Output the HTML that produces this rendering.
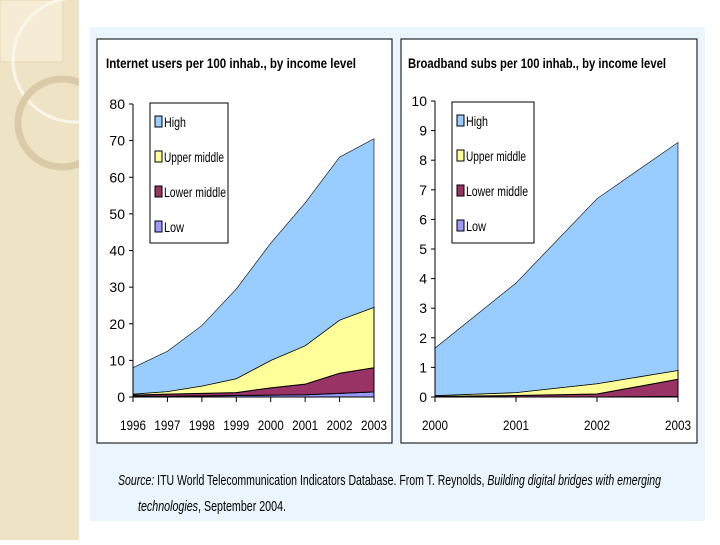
<!DOCTYPE html>
<html><head><meta charset="utf-8"><style>
body{margin:0;width:720px;height:540px;overflow:hidden;background:#fff;font-family:"Liberation Sans",sans-serif}
svg text{font-family:"Liberation Sans",sans-serif}
</style></head><body>
<svg id="s" width="720" height="540" xmlns="http://www.w3.org/2000/svg">
<defs><clipPath id="cp"><rect x="0" y="0" width="79" height="540"/></clipPath></defs>
<rect x="0" y="0" width="79" height="540" fill="#efe3c6"/>
<g clip-path="url(#cp)">
<rect x="0" y="0" width="63" height="62" fill="#f6ecd6" stroke="#e6d6b0"/>
<circle cx="75" cy="60" r="62" fill="none" stroke="#fbf6ea" stroke-width="3"/>
<circle cx="62" cy="123" r="44" fill="none" stroke="#d9cba8" stroke-width="7"/>
</g>
<rect x="90" y="27" width="615" height="494" fill="#eaf5fd"/>
<rect x="97" y="39" width="295" height="404" fill="#fff" stroke="#000" stroke-width="1"/>
<rect x="401" y="39" width="296" height="404" fill="#fff" stroke="#000" stroke-width="1"/>
<text x="106" y="68" font-size="14" font-weight="bold" textLength="250" lengthAdjust="spacingAndGlyphs">Internet users per 100 inhab., by income level</text>
<text x="408" y="68" font-size="14" font-weight="bold" textLength="258" lengthAdjust="spacingAndGlyphs">Broadband subs per 100 inhab., by income level</text>
<g id="L"></g><g id="R"></g>
<text x="118" y="485" font-family="Liberation Serif" font-size="15" textLength="543" lengthAdjust="spacingAndGlyphs"><tspan font-style="italic">Source:</tspan> ITU World Telecommunication Indicators Database. From T. Reynolds, <tspan font-style="italic">Building digital bridges with emerging</tspan></text>
<text x="138" y="511" font-family="Liberation Serif" font-size="15" textLength="148" lengthAdjust="spacingAndGlyphs"><tspan font-style="italic">technologies</tspan>, September 2004.</text>
</svg>
<script>
const leftYears=["1996","1997","1998","1999","2000","2001","2002","2003"];
const leftLow=[0.2,0.2,0.3,0.4,0.5,0.6,1.0,1.4];
const leftLowerMid=[0.3,0.6,0.7,0.8,2.0,2.9,5.5,6.6];
const leftUpperMid=[0.3,0.7,2.0,3.8,7.5,10.5,14.5,16.5];
const leftHigh=[7.2,11.0,16.5,24.5,32.0,39.0,44.5,46.0];
const leftTicks=[0,10,20,30,40,50,60,70,80];
const rightYears=["2000","2001","2002","2003"];
const rightLow=[0,0,0,0.02];
const rightLowerMid=[0.02,0.05,0.1,0.58];
const rightUpperMid=[0.03,0.1,0.35,0.3];
const rightHigh=[1.6,3.7,6.25,7.7];
const rightTicks=[0,1,2,3,4,5,6,7,8,9,10];
const names=["Low","Lower middle","Upper middle","High"];
const colors=["#9999ff","#993366","#ffff99","#99ccff"];
const legW={"Low":20,"Lower middle":62,"Upper middle":60,"High":22};
const NS="http://www.w3.org/2000/svg";
function mk(g,tag,a){const e=document.createElementNS(NS,tag);for(const k in a)e.setAttribute(k,a[k]);g.appendChild(e);return e;}
function chart(gid,pre,years,series,ticks,ymax,x0,x1,y0,y1,lg){
  const g=document.getElementById(gid);
  const xs=i=>x0+(x1-x0)*i/(years.length-1);
  const ys=v=>y0-(y0-y1)*v/ymax;
  let cum=years.map(()=>0);
  series.forEach((s,si)=>{
    const top=cum.map((c,i)=>c+s[i]);
    let d="M"+years.map((_,i)=>xs(i)+","+ys(top[i])).join(" L");
    for(let i=years.length-1;i>=0;i--)d+=" L"+xs(i)+","+ys(cum[i]);
    const p=mk(g,"path",{d:d+"Z",fill:colors[si],stroke:"#000","stroke-width":si==3?0.6:1});
    
    
    cum=top;
  });
  const ax=mk(g,"path",{d:`M${x0},${y1}V${y0}H${x1}`,stroke:"#000",fill:"none"});
  
  
  ticks.forEach(t=>{
    mk(g,"line",{x1:x0-4,x2:x0,y1:ys(t),y2:ys(t),stroke:"#000"});
    const tx=mk(g,"text",{x:x0-8,y:ys(t)+5,"font-size":14,"text-anchor":"end"});
    tx.textContent=t;
    
    
  });
  years.forEach((yr,i)=>{
    mk(g,"line",{x1:xs(i),x2:xs(i),y1:y0,y2:y0+5,stroke:"#000"});
    const tx=mk(g,"text",{x:xs(i),y:y0+33,"font-size":14,"text-anchor":"middle",textLength:26,lengthAdjust:"spacingAndGlyphs"});
    tx.textContent=yr;
    
    
  });
  const lb=mk(g,"rect",{x:lg[0],y:lg[1],width:lg[2],height:lg[3],fill:"#fff",stroke:"#000"});
  
  
  [3,2,1,0].forEach((si,k)=>{
    const yy=lg[1]+20+k*35;
    mk(g,"rect",{x:lg[0]+5,y:yy-7,width:7,height:11,fill:colors[si],stroke:"#000"});
    const tx=mk(g,"text",{x:lg[0]+14,y:yy+4,"font-size":14,textLength:legW[names[si]],lengthAdjust:"spacingAndGlyphs"});
    tx.textContent=names[si];
    
    
  });
}
chart("L","left",leftYears,[leftLow,leftLowerMid,leftUpperMid,leftHigh],leftTicks,80,133,374,397,104,[150,103,78,140]);
chart("R","right",rightYears,[rightLow,rightLowerMid,rightUpperMid,rightHigh],rightTicks,10,435,678,397,101,[452,102,82,141]);
</script>
</body></html>
